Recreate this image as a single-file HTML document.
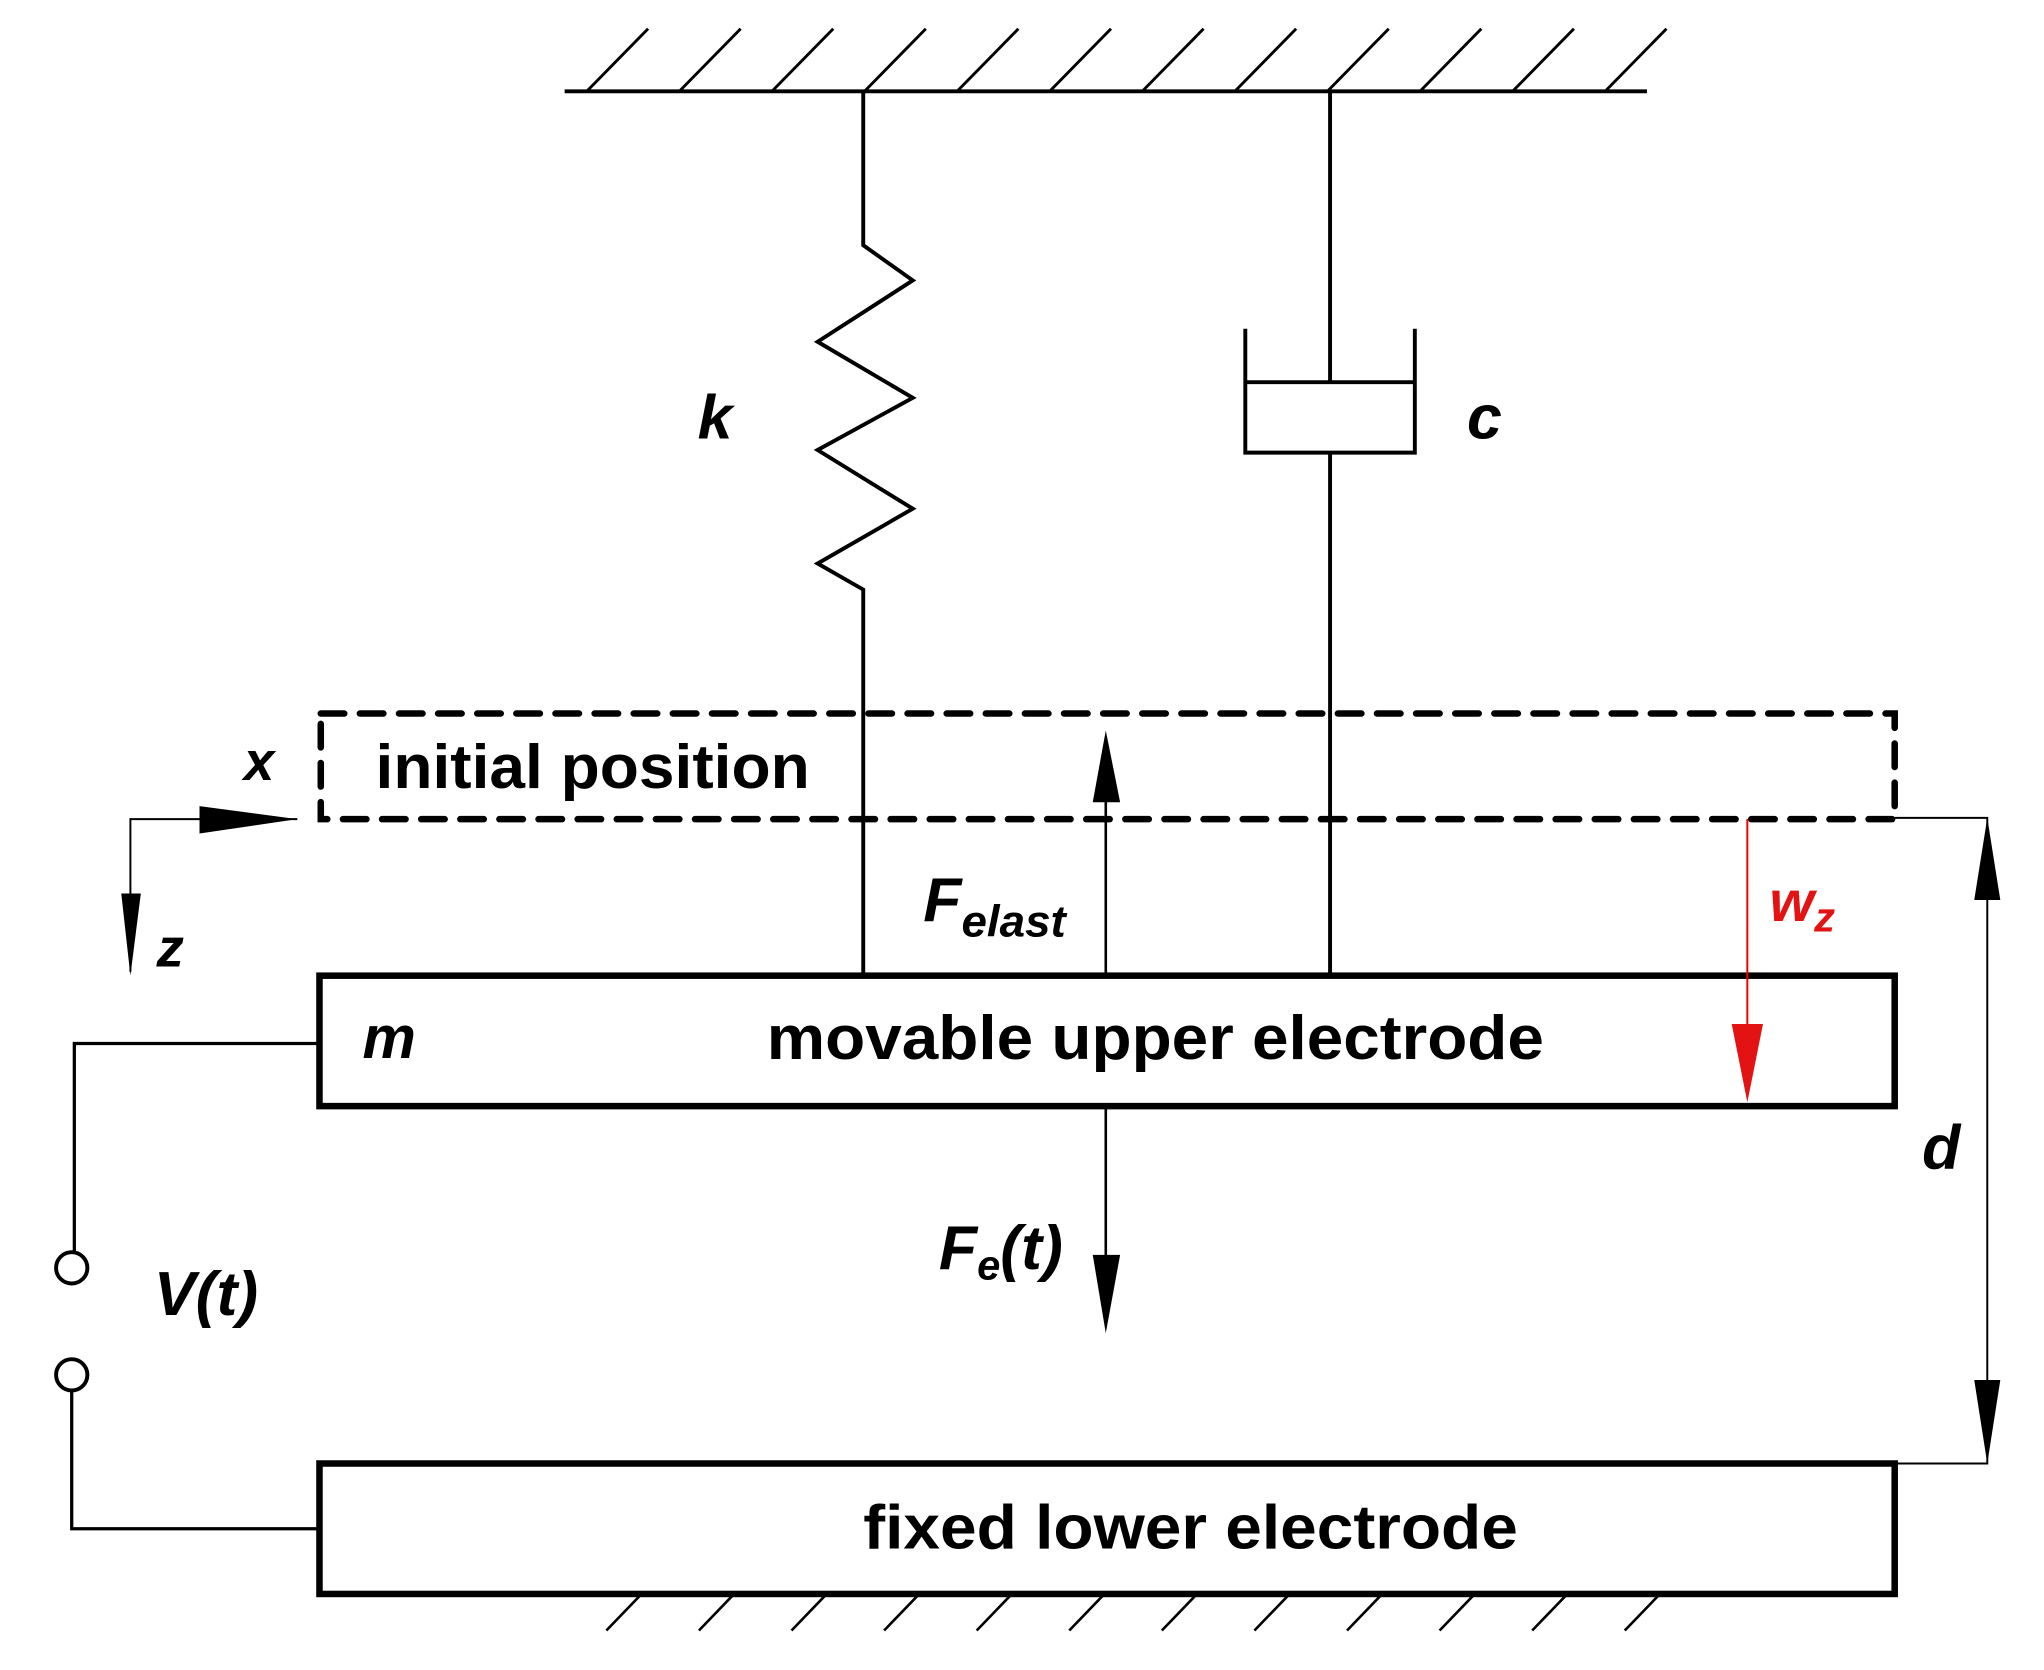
<!DOCTYPE html>
<html><head><meta charset="utf-8"><style>
html,body{margin:0;padding:0;background:#fff;}
svg{display:block;}
text{font-family:"Liberation Sans",sans-serif;font-weight:bold;}
</style></head><body>
<svg width="2044" height="1670" viewBox="0 0 1567.5 1280.3" preserveAspectRatio="none" xmlns="http://www.w3.org/2000/svg">
<g stroke="#000" fill="none" stroke-width="3">
  <line x1="433" y1="70" x2="1263" y2="70"/>
  <path d="M450 70 L497 22 M521 70 L568 22 M592 70 L639 22 M663 70 L710 22 M734 70 L781 22 M805 70 L852 22 M876 70 L923 22 M947 70 L994 22 M1018 70 L1065 22 M1089 70 L1136 22 M1160 70 L1207 22 M1231 70 L1278 22" stroke-width="2.2"/>
  <polyline points="662,70 662,188 700,215 627,262 700,305 627,345 700,390 627,432 662,452 662,748"/>
  <line x1="1020" y1="70" x2="1020" y2="293"/>
  <polyline points="955,252 955,347 1085,347 1085,252"/>
  <line x1="955" y1="293" x2="1085" y2="293"/>
  <line x1="1020" y1="347" x2="1020" y2="748"/>
  <rect x="246" y="547" width="1207" height="81" stroke-width="5" stroke-dasharray="18 12" stroke-linecap="round"/>
  <polyline points="228,628 100,628 100,745" stroke-width="1.5"/>
  <rect x="245" y="748" width="1208" height="100" stroke-width="5"/>
  <rect x="245" y="1122" width="1208" height="100" stroke-width="5"/>
  <line x1="848" y1="748" x2="848" y2="600" stroke-width="2"/>
  <line x1="848" y1="848" x2="848" y2="980" stroke-width="2"/>
  <polyline points="1453,627 1524,627 1524,1122 1453,1122" stroke-width="1.5"/>
  <polyline points="245,800 57,800 57,960" stroke-width="2.5"/>
  <circle cx="55" cy="972" r="12"/>
  <circle cx="55" cy="1054" r="12"/>
  <polyline points="55,1066 55,1172 245,1172" stroke-width="2.5"/>
  <path d="M465 1250 L492 1222 M536 1250 L563 1222 M607 1250 L634 1222 M678 1250 L705 1222 M749 1250 L776 1222 M820 1250 L847 1222 M891 1250 L918 1222 M962 1250 L989 1222 M1033 1250 L1060 1222 M1104 1250 L1131 1222 M1175 1250 L1202 1222 M1246 1250 L1273 1222" stroke-width="2"/>
  <line x1="1340" y1="628" x2="1340" y2="800" stroke="#e00" stroke-width="1.5"/>
</g>
<g fill="#000">
  <polygon points="228,628 153,618 153,639"/>
  <polygon points="100,748 93,685 108,685"/>
  <polygon points="848,560 838,615 859,615"/>
  <polygon points="848,1022 838,962 859,962"/>
  <polygon points="1524,627 1514,690 1534,690"/>
  <polygon points="1524,1122 1514,1058 1534,1058"/>
  <polygon points="1340,845 1328,785 1352,785" fill="#e31313"/>
</g>
<g font-size="48">
  <text x="535" y="336" font-style="italic">k</text>
  <text x="1125" y="336" font-style="italic">c</text>
  <text x="187" y="598" font-size="42" font-style="italic">x</text>
  <text x="288" y="604" textLength="333" lengthAdjust="spacingAndGlyphs">initial position</text>
  <text x="120" y="741" font-size="42" font-style="italic">z</text>
  <text x="708" y="706" font-style="italic">F<tspan font-size="34" dy="12" textLength="80" lengthAdjust="spacingAndGlyphs">elast</tspan></text>
  <text x="1357" y="706" fill="#e31313" font-style="italic" font-size="44">w<tspan font-size="32" dy="8">z</tspan></text>
  <text x="278" y="811" font-family="Liberation Serif,serif" font-style="italic" font-weight="normal" font-size="46">m</text>
  <text x="588" y="812" textLength="596" lengthAdjust="spacingAndGlyphs">movable upper electrode</text>
  <text x="1474" y="896" font-style="italic">d</text>
  <text x="720" y="973" font-style="italic">F<tspan font-size="32" dy="8">e</tspan><tspan dy="-8">(t)</tspan></text>
  <text x="118" y="1008" font-style="italic">V(t)</text>
  <text x="662" y="1187" textLength="502" lengthAdjust="spacingAndGlyphs">fixed lower electrode</text>
</g>
</svg>
</body></html>
